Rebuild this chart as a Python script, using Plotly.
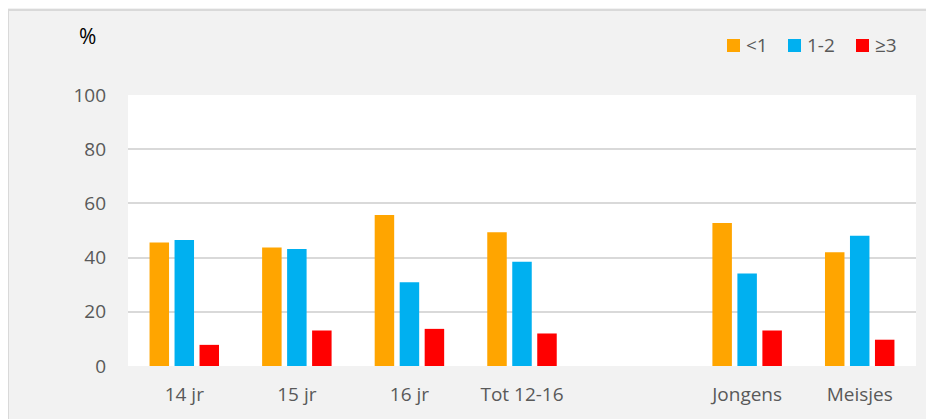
import plotly.graph_objects as go

categories = ["14 jr", "15 jr", "16 jr", "Tot 12-16", " ", "Jongens", "Meisjes"]
series_names = ["<1", "1-2", "≥3"]
vals_lt1 = [45.6, 43.7, 55.7, 49.4, None, 52.8, 42.0]
vals_1_2 = [46.5, 43.2, 30.9, 38.5, None, 34.1, 48.1]
vals_ge3 = [7.8, 13.1, 13.7, 12.0, None, 13.1, 9.7]
y_ticks = [0, 20, 40, 60, 80, 100]

colors = ["#FFA500", "#00B0F0", "#FF0000"]
font_fam = "Open Sans, Liberation Sans, DejaVu Sans, sans-serif"
txt_col = "#595959"

fig = go.Figure()
for name, vals, col in zip(series_names, [vals_lt1, vals_1_2, vals_ge3], colors):
    fig.add_trace(go.Bar(x=categories, y=vals, name=name, showlegend=False,
                         marker=dict(color=col, line=dict(width=0))))

# figure is placed at (8, 8) in the page by the default body margin
OFF = 8
W, H = 926, 411
L, R, T, B = 120, 18, 87, 53
pw, ph = W - L - R, H - T - B

def px_x(p):  # screen px -> paper
    return (p - OFF - L) / pw

def px_y(p):
    return (H - B - (p - OFF)) / ph

shapes = [
    dict(type="line", xref="paper", yref="paper", x0=px_x(7), x1=px_x(960),
         y0=px_y(10), y1=px_y(10), line=dict(color="#d9d9d9", width=2), layer="above"),
    dict(type="line", xref="paper", yref="paper", x0=px_x(8), x1=px_x(8),
         y0=px_y(9), y1=px_y(440), line=dict(color="#d9d9d9", width=2), layer="above"),
]
annotations = [dict(text="%", xref="paper", yref="paper", x=px_x(87.5), y=px_y(36.5),
                    xanchor="center", yanchor="middle", showarrow=False,
                    font=dict(size=21, color="#000000", family=font_fam))]

# legend (drawn manually to match the reference layout)
leg_sq_x = [727, 788, 856]
leg_txt_x = [744, 805, 873]
for name, col, sx, tx in zip(series_names, colors, leg_sq_x, leg_txt_x):
    shapes.append(dict(type="rect", xref="paper", yref="paper", x0=px_x(sx), x1=px_x(sx + 13),
                       y0=px_y(52), y1=px_y(39), fillcolor=col, line=dict(width=0), layer="above"))
    annotations.append(dict(text=name, xref="paper", yref="paper", x=px_x(tx), y=px_y(45.5),
                            xanchor="left", yanchor="middle", showarrow=False,
                            font=dict(size=19, color=txt_col, family=font_fam)))

fig.update_layout(
    width=W, height=H,
    margin=dict(l=L, r=R, t=T, b=B, pad=0),
    paper_bgcolor="#f2f2f2",
    plot_bgcolor="#ffffff",
    barmode="group",
    bargap=0.334,
    bargroupgap=0.22,
    font=dict(family=font_fam, size=19, color=txt_col),
    showlegend=False,
    xaxis=dict(type="category", categoryorder="array", categoryarray=categories,
               showgrid=False, showline=False, zeroline=False, ticks="",
               ticklabelstandoff=15,
               tickfont=dict(size=19, color=txt_col), fixedrange=True),
    yaxis=dict(range=[0, 100], tickvals=y_ticks, showgrid=True, gridcolor="#d9d9d9",
               gridwidth=2, zeroline=False, showline=False, ticks="",
               ticklabelstandoff=21,
               tickfont=dict(size=19, color=txt_col), fixedrange=True),
    annotations=annotations,
    shapes=shapes,
)

fig.write_html("out.html")
